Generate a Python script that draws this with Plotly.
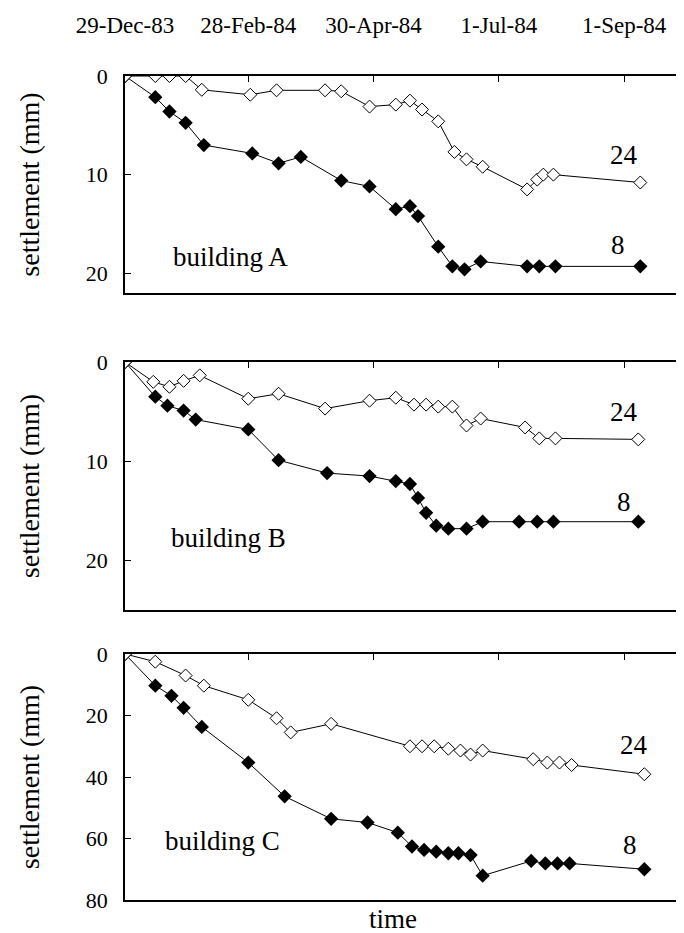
import plotly.graph_objects as go
from plotly.subplots import make_subplots

# x values: days since 29-Dec-83
tick_days = [0, 61, 123, 185, 247]
tick_labels = ["29-Dec-83", "28-Feb-84", "30-Apr-84", "1-Jul-84", "1-Sep-84"]

# Building A
a24_days = [0, 15, 22, 30, 38, 62, 75, 99, 107, 121, 134, 141, 147, 155, 163, 169, 177, 199, 204, 207, 212, 255]
a24_vals = [0, 0, 0, 0, 1.4, 1.9, 1.45, 1.45, 1.55, 3.1, 2.9, 2.5, 3.4, 4.6, 7.7, 8.45, 9.2, 11.5, 10.5, 10.0, 10.0, 10.8]
a8_days = [0, 15, 22, 30, 39, 63, 76, 87, 107, 121, 134, 141, 145, 155, 162, 168, 176, 199, 205, 213, 255]
a8_vals = [0, 2.15, 3.6, 4.75, 7.0, 7.85, 8.85, 8.2, 10.6, 11.2, 13.5, 13.2, 14.2, 17.3, 19.3, 19.6, 18.8, 19.3, 19.3, 19.3, 19.3]

# Building B
b24_days = [0, 14, 22, 29, 37, 61, 76, 99, 121, 134, 143, 149, 155, 162, 169, 176, 198, 205, 213, 254]
b24_vals = [0, 2.0, 2.5, 1.9, 1.35, 3.7, 3.2, 4.7, 3.9, 3.6, 4.3, 4.3, 4.5, 4.5, 6.4, 5.7, 6.6, 7.7, 7.7, 7.8]
b8_days = [0, 15, 21, 29, 35, 61, 76, 100, 121, 134, 141, 145, 149, 154, 160, 169, 177, 195, 204, 212, 254]
b8_vals = [0, 3.5, 4.4, 4.9, 5.8, 6.8, 9.9, 11.2, 11.5, 12.0, 12.3, 13.7, 15.2, 16.5, 16.8, 16.8, 16.1, 16.1, 16.1, 16.1, 16.1]

# Building C
c24_days = [0, 15, 30, 39, 61, 75, 82, 102, 141, 147, 153, 160, 166, 171, 177, 202, 209, 215, 221, 257]
c24_vals = [0, 2.5, 7.0, 10.3, 14.9, 20.9, 25.5, 22.7, 30, 30, 30, 30.8, 31.4, 32.7, 31.4, 34.2, 35.3, 35.3, 36.1, 39.1]
c8_days = [0, 15, 23, 29, 38, 61, 79, 102, 120, 135, 142, 148, 154, 160, 165, 171, 177, 201, 208, 214, 220, 257]
c8_vals = [0, 10.3, 13.6, 17.5, 23.7, 35.3, 46.3, 53.6, 54.8, 58.1, 62.6, 63.7, 64.3, 64.8, 64.8, 65.4, 72.1, 67.3, 68.1, 68.1, 68.1, 70]

FONT = "'Liberation Serif', 'Times New Roman', Times, serif"

fig = make_subplots(rows=3, cols=1)

panels = [
    (1, a24_days, a24_vals, a8_days, a8_vals),
    (2, b24_days, b24_vals, b8_days, b8_vals),
    (3, c24_days, c24_vals, c8_days, c8_vals),
]
for row, d24, v24, d8, v8 in panels:
    fig.add_trace(go.Scatter(x=d8, y=v8, mode="lines+markers", name="8",
                             line=dict(color="black", width=1),
                             marker=dict(symbol="diamond", size=11, color="black")),
                  row=row, col=1)
    fig.add_trace(go.Scatter(x=d24, y=v24, mode="lines+markers", name="24",
                             line=dict(color="black", width=1),
                             marker=dict(symbol="diamond", size=10, color="white",
                                         line=dict(color="black", width=1))),
                  row=row, col=1)

top, bot = 68, 892
H = bot - top
def dom(y0, y1):
    return [(bot - y1) / H, (bot - y0) / H]

domains = [dom(68, 285), dom(354, 602), dom(646, 892)]
yranges = [[22, 0], [25, 0], [80, 0]]
ytickvals = [[0, 10, 20], [0, 10, 20], [0, 20, 40, 60, 80]]

for i in range(3):
    ax = "" if i == 0 else str(i + 1)
    fig.layout["xaxis" + ax].update(
        range=[0, 278.6], side="top", tickvals=tick_days, ticktext=tick_labels,
        showticklabels=(i == 0), ticks="inside", ticklen=6, tickcolor="black",
        showline=True, linecolor="black", linewidth=1.5, mirror=True,
        showgrid=False, zeroline=False, ticklabelstandoff=32,
        tickfont=dict(family=FONT, size=23, color="black"))
    fig.layout["yaxis" + ax].update(
        domain=domains[i], range=yranges[i], tickvals=ytickvals[i],
        ticks="inside", ticklen=6, tickcolor="black",
        showline=True, linecolor="black", linewidth=1.5, mirror=True,
        showgrid=False, zeroline=False, ticklabelstandoff=11,
        tickfont=dict(family=FONT, size=22, color="black"),
        title=dict(text="settlement (mm)", standoff=38,
                   font=dict(family=FONT, size=28, color="black")))

# labels
labels = [
    (1, 247, 8.0, "24"), (1, 244, 17.1, "8"), (1, 52, 18.4, "building A"),
    (2, 247, 5.0, "24"), (2, 247, 14.1, "8"), (2, 51, 17.7, "building B"),
    (3, 252, 29.6, "24"), (3, 250, 62.2, "8"), (3, 48, 60.9, "building C"),
]
for row, x, y, t in labels:
    ax = "" if row == 1 else str(row)
    fig.add_annotation(x=x, y=y, xref="x" + ax, yref="y" + ax, text=t,
                       showarrow=False,
                       font=dict(family=FONT, size=27, color="black"))

fig.add_annotation(x=(386 - 117) / 565, y=-(911 - bot) / H,
                   xref="paper", yref="paper", text="time", showarrow=False,
                   yanchor="middle",
                   font=dict(family=FONT, size=27, color="black"))

fig.update_layout(
    width=684, height=933,
    margin=dict(l=117, r=2, t=top, b=933 - bot),
    paper_bgcolor="white", plot_bgcolor="white",
    showlegend=False,
)

fig.write_html("out.html")
